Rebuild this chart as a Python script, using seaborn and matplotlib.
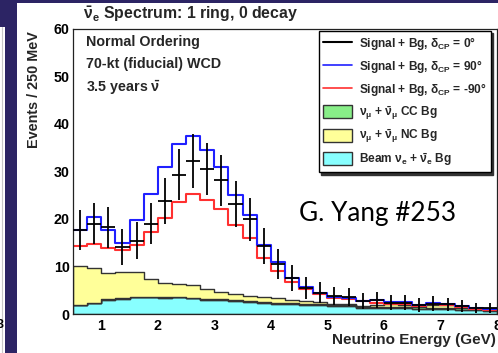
import numpy as np
import pandas as pd
import matplotlib
matplotlib.use("Agg")
import matplotlib.pyplot as plt
import seaborn as sns
from matplotlib.patches import Rectangle, Patch
from matplotlib.lines import Line2D

# ---------------- data ----------------
energy_edges = [round(0.5 + 0.25 * i, 3) for i in range(31)]   # GeV, 250 MeV bins
energy_centers = np.array(energy_edges[:-1]) + 0.125

sig_dcp0 = [17.6, 19.0, 18.2, 14.1, 15.4, 19.0, 23.8, 29.3, 32.1, 30.5,
            28.1, 23.2, 19.9, 14.3, 10.5, 7.5, 5.4, 4.5, 3.8, 3.6,
            2.7, 2.9, 2.4, 2.4, 1.9, 2.2, 2.0, 1.6, 1.25, 1.25]
sig_dcp90 = [17.6, 20.4, 17.6, 15.0, 19.7, 25.2, 30.8, 35.7, 37.5, 34.5,
             30.8, 25.0, 20.8, 14.6, 10.9, 7.5, 5.6, 4.4, 3.6, 3.45,
             2.8, 3.0, 2.6, 2.6, 1.9, 2.4, 2.2, 1.7, 1.2, 1.05]
sig_dcpm90 = [14.3, 14.8, 13.9, 13.4, 14.5, 17.3, 20.1, 23.5, 25.3, 24.0,
              22.0, 18.8, 15.9, 11.7, 9.1, 6.8, 5.2, 4.3, 3.4, 3.1,
              2.8, 2.4, 2.1, 2.2, 1.6, 2.1, 1.9, 1.5, 1.0, 0.9]
bg_beam = [1.8, 2.3, 3.0, 3.2, 3.5, 3.5, 3.4, 3.5, 3.3, 3.0,
           2.9, 2.7, 2.6, 2.3, 2.2, 2.1, 1.9, 1.8, 1.7, 1.7,
           1.3, 1.3, 1.2, 1.2, 1.1, 1.0, 1.0, 0.9, 0.8, 0.7]
bg_cc = [0.1, 0.1, 0.1, 0.1, 0.1, 0.1, 0.1, 0.1, 0.1, 0.1,
         0.15, 0.15, 0.15, 0.2, 0.2, 0.2, 0.2, 0.25, 0.25, 0.25,
         0.25, 0.25, 0.3, 0.3, 0.3, 0.3, 0.3, 0.3, 0.2, 0.2]
bg_nc = [8.2, 7.2, 5.6, 5.6, 5.3, 3.8, 3.0, 2.6, 2.7, 2.1,
         1.65, 1.45, 1.05, 1.0, 0.9, 0.6, 0.6, 0.45, 0.25, 0.25,
         0.15, 0.25, 0.5, 0.4, 0.3, 0.6, 0.5, 0.3, 0.1, 0.1]

comp_names = ["NC", "CC", "Beam"]
comp_colors = {"NC": "#ffff99", "CC": "#88ee88", "Beam": "#88ffff"}

# ---------------- style ----------------
sns.set_theme(style="white")
plt.rcParams["font.family"] = ["Liberation Sans", "DejaVu Sans"]
plt.rcParams["font.weight"] = "bold"
plt.rcParams["mathtext.fontset"] = "custom"
plt.rcParams["mathtext.rm"] = "Liberation Sans:bold"
plt.rcParams["mathtext.it"] = "Liberation Sans:bold"
plt.rcParams["mathtext.bf"] = "Liberation Sans:bold"
plt.rcParams["mathtext.sf"] = "Liberation Sans:bold"

W, H = 498, 353
fig = plt.figure(figsize=(W / 100, H / 100), dpi=100)
fig.patch.set_facecolor("white")

def fx(x):
    return x / W

def fy(y):
    return 1 - y / H

# slide decorations
navy = "#2c2464"
fig.add_artist(Rectangle((0, fy(3)), 1, 3 / H, transform=fig.transFigure, color=navy, lw=0, zorder=0))
fig.add_artist(Rectangle((fx(0), fy(27)), 17 / W, 27 / H, transform=fig.transFigure, color=navy, lw=0, zorder=0))
fig.add_artist(Rectangle((fx(5), 0), 12 / W, 1, transform=fig.transFigure, color=navy, lw=0, zorder=0))
fig.add_artist(Line2D([fx(1.5), fx(1.5)], [0, fy(27)], transform=fig.transFigure, color="#c8c8c8", lw=0.8, zorder=0))
fig.text(fx(-3), fy(325), "3", fontsize=9, color="black", ha="left", va="center")

ax = fig.add_axes([fx(73), fy(314), (497 - 73) / W, (314 - 28.5) / H])
ax.set_facecolor("white")

# stacked backgrounds
n = len(energy_centers)
bg_df = pd.DataFrame({
    "E": np.concatenate([energy_centers] * 3),
    "w": np.concatenate([bg_nc, bg_cc, bg_beam]),
    "comp": np.repeat(comp_names, n),
})
sns.histplot(data=bg_df, x="E", weights="w", hue="comp", hue_order=comp_names,
             multiple="stack", bins=energy_edges, element="step", fill=True,
             palette=comp_colors, alpha=1, edgecolor="#333333", linewidth=1.0,
             legend=False, ax=ax)

# signal + bg curves
sns.histplot(x=energy_centers, weights=sig_dcpm90, bins=energy_edges, element="step",
             fill=False, color="#ff3030", linewidth=1.5, ax=ax)
sns.histplot(x=energy_centers, weights=sig_dcp90, bins=energy_edges, element="step",
             fill=False, color="#2020ff", linewidth=1.5, ax=ax)
ax.errorbar(energy_centers, sig_dcp0, xerr=0.125, yerr=np.sqrt(sig_dcp0),
            fmt="none", ecolor="black", elinewidth=1.3, capsize=0, zorder=5)

ax.set_xlim(0.5, 8.0)
ax.set_ylim(0, 60)
ax.set_xlabel("")
ax.set_ylabel("")
ax.set_xticks(range(1, 9))
ax.set_xticks(np.arange(0.5, 8.01, 0.25), minor=True)
ax.set_yticks(range(0, 61, 10))
ax.set_yticks(range(0, 61, 2), minor=True)
ax.tick_params(axis="both", which="both", direction="in", colors="black",
               labelsize=10.3, top=False, right=False)
ax.tick_params(axis="y", which="major", length=8, width=1, pad=2.5)
ax.tick_params(axis="y", which="minor", length=4.5, width=0.8)
ax.tick_params(axis="x", which="major", length=5.5, width=1, pad=3.5)
ax.tick_params(axis="x", which="minor", length=2.8, width=0.8)
for lab in ax.get_xticklabels() + ax.get_yticklabels():
    lab.set_fontweight("bold")
for s in ax.spines.values():
    s.set_color("#222222")
    s.set_linewidth(0.9)

# texts
fig.text(fx(83), fy(14), r"$\bar{\nu}_{\rm e}$ Spectrum: 1 ring, 0 decay",
         fontsize=11.4, ha="left", va="center")
fig.text(fx(34), fy(90), "Events / 250 MeV", rotation=90, fontsize=10.4,
         ha="center", va="center")
fig.text(fx(496), fy(340), "Neutrino Energy (GeV)", fontsize=11,
         ha="right", va="center")
fig.text(fx(86), fy(42), "Normal Ordering", fontsize=10.3, ha="left", va="center")
fig.text(fx(86), fy(64), "70-kt (fiducial) WCD", fontsize=10.3, ha="left", va="center")
fig.text(fx(86), fy(88), r"3.5 years $\bar{\nu}$", fontsize=10.3, ha="left", va="center")
fig.text(fx(299), fy(213), "G. Yang #253", fontsize=18.8, fontweight="normal",
         family=["Lato", "DejaVu Sans"], ha="left", va="center", color="black")

# legend
handles = [
    Line2D([], [], color="black", lw=1.5),
    Line2D([], [], color="#2020ff", lw=1.2),
    Line2D([], [], color="#ff3030", lw=1.2),
    Patch(facecolor=comp_colors["CC"], edgecolor="#333333", lw=1),
    Patch(facecolor=comp_colors["NC"], edgecolor="#333333", lw=1),
    Patch(facecolor=comp_colors["Beam"], edgecolor="#333333", lw=1),
]
labels = [
    r"Signal + Bg, $\delta_{\rm CP}$ = 0°",
    r"Signal + Bg, $\delta_{\rm CP}$ = 90°",
    r"Signal + Bg, $\delta_{\rm CP}$ = -90°",
    r"$\nu_{\mu}$ + $\bar{\nu}_{\mu}$ CC Bg",
    r"$\nu_{\mu}$ + $\bar{\nu}_{\mu}$ NC Bg",
    r"Beam $\nu_{\rm e}$ + $\bar{\nu}_{\rm e}$ Bg",
]
leg = ax.legend(handles, labels, loc="upper right",
                bbox_to_anchor=(fx(490.5), fy(30.7)), bbox_transform=fig.transFigure,
                borderaxespad=0, frameon=True, fancybox=False, fontsize=8.6,
                handlelength=2.4, handleheight=1.3, handletextpad=0.6,
                labelspacing=0.5, borderpad=0.35,
                shadow={"color": "#333333", "alpha": 1.0})
leg.get_frame().set_edgecolor("black")
leg.get_frame().set_linewidth(1.0)
leg.set_zorder(10)
for t in leg.get_texts():
    t.set_fontweight("bold")

fig.savefig("out.png", dpi=100)
